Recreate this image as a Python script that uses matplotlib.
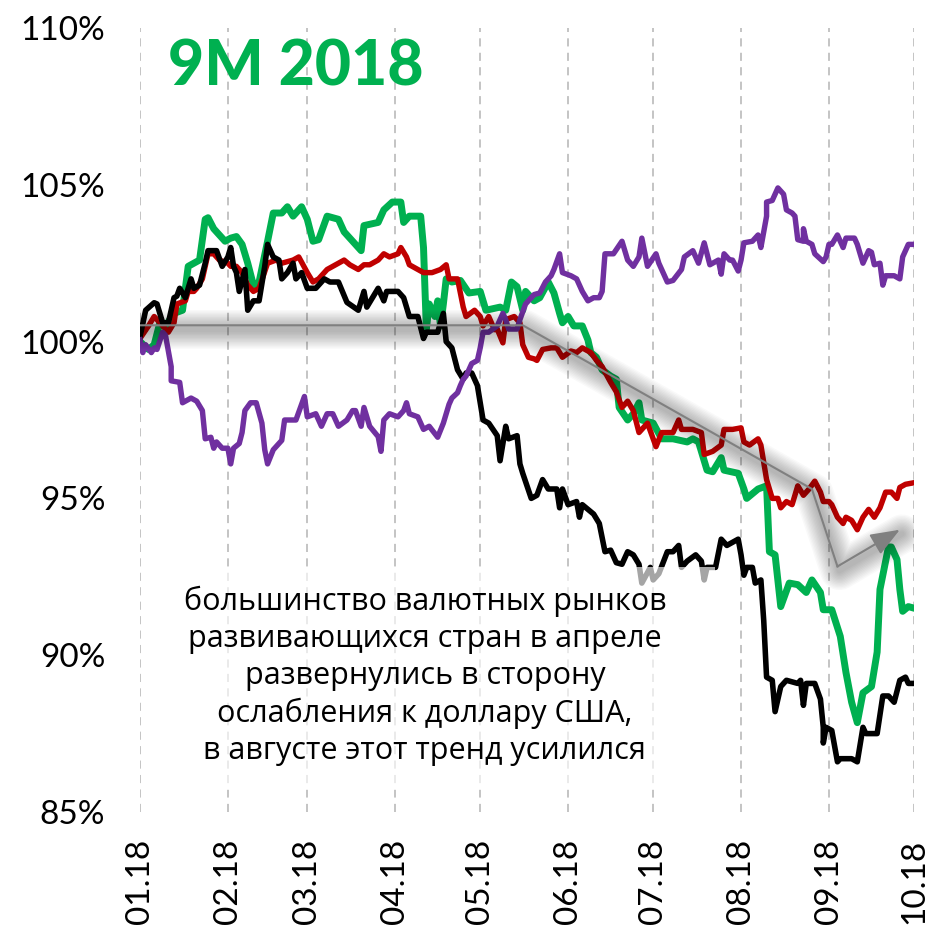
import numpy as np
import pandas as pd
import matplotlib
matplotlib.use("Agg")
import matplotlib.pyplot as plt
import matplotlib.transforms as mtransforms
from matplotlib.patches import Rectangle

# days since 01.01.2018 and index level (%)
green_days = [0, 3, 5, 7, 9, 12, 15, 17, 19, 21, 23, 24, 26, 28, 30, 32, 34, 36, 38, 40, 42, 45, 47, 50, 52, 54,
              57, 59, 61, 63, 66, 70, 72, 74, 78, 79, 84, 86, 89, 92, 93, 95, 99, 100, 101, 102, 104, 105, 106, 107,
              108, 110, 113, 116, 120, 122, 127, 129, 131, 133, 135, 136, 139, 141, 144, 146, 148, 149, 151, 153,
              156, 158, 159, 161, 163, 166, 168, 169, 172, 174, 176, 177, 181, 184, 188, 193, 195, 197, 200, 202,
              205, 206, 211, 213, 214, 218, 221, 222, 224, 226, 229, 232, 235, 237, 240, 241, 244, 247, 249, 251,
              253, 255, 258, 260, 261, 264, 265, 267, 268, 269, 271, 273]
green_vals = [100.0, 99.75, 99.9, 100.6, 100.5, 100.9, 101.0, 102.4, 102.5, 102.6, 103.9, 103.95, 103.6, 103.4,
              103.2, 103.3, 103.35, 103.1, 102.5, 101.8, 101.9, 103.2, 104.1, 104.1, 104.3, 104.0, 104.3, 103.9,
              103.2, 103.25, 104.0, 103.9, 103.5, 103.3, 102.9, 103.7, 103.8, 104.2, 104.45, 104.45, 103.8, 104.0,
              104.0, 103.0, 100.4, 101.2, 100.8, 101.3, 100.5, 101.2, 102.0, 101.9, 101.95, 101.55, 101.6, 101.0,
              101.1, 101.0, 101.9, 101.75, 101.0, 101.6, 101.3, 101.4, 101.9, 101.55, 100.9, 100.6, 100.8, 100.5,
              100.5, 100.05, 99.65, 99.5, 99.1, 98.9, 98.8, 97.9, 97.5, 97.7, 98.05, 97.5, 97.4, 96.9, 96.9, 96.8,
              96.9, 96.8, 95.9, 95.85, 96.3, 95.9, 95.8, 95.3, 95.0, 95.3, 95.4, 93.3, 93.2, 91.55, 92.3, 92.25,
              92.0, 92.4, 92.0, 91.45, 91.45, 90.6, 89.45, 88.5, 87.85, 88.8, 89.0, 90.1, 92.1, 93.45, 93.45, 93.05,
              92.1, 91.4, 91.55, 91.5]

black_days = [0, 2, 5, 6, 8, 10, 12, 13, 14, 16, 18, 19, 21, 23, 24, 27, 29, 31, 32, 33, 34, 35, 37, 38, 40, 42,
              44, 45, 47, 49, 50, 52, 54, 55, 57, 59, 62, 65, 67, 70, 73, 77, 79, 80, 84, 86, 87, 91, 93, 95, 98,
              100, 101, 105, 107, 108, 110, 112, 114, 115, 117, 119, 121, 123, 126, 127, 129, 130, 133, 134, 135,
              138, 140, 142, 144, 147, 148, 149, 151, 154, 155, 156, 160, 162, 164, 166, 168, 170, 172, 174, 176,
              177, 180, 181, 183, 186, 188, 190, 191, 193, 196, 198, 199, 200, 203, 205, 207, 209, 211, 212, 213,
              214, 216, 217, 219, 220, 221, 223, 224, 226, 228, 232, 233, 234, 235, 238, 240, 241, 241, 242, 244,
              246, 247, 251, 253, 255, 256, 260, 262, 264, 266, 268, 270, 271, 273]
black_vals = [100.16, 101.0, 101.24, 101.2, 100.6, 100.6, 101.4, 101.45, 101.7, 101.4, 102.0, 101.7, 101.8, 102.5,
              102.9, 102.9, 102.4, 102.7, 103.0, 102.4, 102.2, 101.6, 102.3, 101.0, 101.3, 101.3, 102.4, 103.1,
              102.7, 102.6, 102.0, 102.2, 102.5, 102.0, 102.2, 101.7, 101.7, 102.0, 101.9, 101.9, 101.25, 101.0,
              101.6, 101.1, 101.7, 101.3, 101.6, 101.6, 101.4, 100.8, 100.8, 100.1, 100.3, 100.3, 100.9, 100.0, 99.8,
              99.1, 98.8, 99.0, 99.0, 98.6, 97.5, 97.4, 97.0, 96.2, 97.3, 96.9, 97.0, 96.1, 95.8, 95.0, 95.1, 95.6,
              95.3, 95.3, 94.7, 95.3, 94.8, 94.9, 94.4, 94.8, 94.5, 94.2, 93.3, 93.35, 92.95, 92.9, 93.3, 93.2,
              92.9, 92.3, 92.8, 92.4, 92.6, 93.3, 93.3, 93.5, 92.8, 93.0, 93.2, 93.0, 92.4, 92.8, 92.8, 93.7, 93.5,
              93.6, 93.7, 93.2, 92.55, 92.8, 92.8, 92.3, 92.4, 91.1, 89.3, 89.2, 88.2, 89.0, 89.2, 89.1, 89.2,
              88.4, 89.1, 89.1, 88.6, 87.7, 87.2, 87.7, 87.6, 86.6, 86.7, 86.7, 86.6, 87.7, 87.5, 87.5, 88.7, 88.7,
              88.5, 89.2, 89.3, 89.1, 89.1]

red_days = [0, 3, 5, 7, 10, 12, 13, 16, 17, 19, 20, 22, 24, 26, 28, 31, 32, 34, 36, 38, 40, 42, 45, 48, 50, 54,
            56, 59, 61, 63, 66, 68, 72, 74, 77, 79, 81, 84, 86, 88, 91, 92, 94, 95, 98, 100, 103, 106, 108, 109,
            112, 114, 115, 118, 120, 121, 123, 125, 126, 128, 129, 132, 134, 135, 137, 139, 140, 142, 145, 147,
            149, 152, 154, 156, 159, 161, 163, 166, 168, 170, 172, 174, 176, 179, 182, 184, 188, 190, 191, 195,
            198, 199, 202, 205, 206, 209, 212, 213, 215, 218, 219, 221, 223, 225, 226, 228, 230, 232, 234, 236,
            238, 240, 241, 243, 244, 246, 248, 249, 251, 253, 255, 257, 259, 261, 263, 265, 267, 268, 270, 273]
red_vals = [100.1, 100.5, 100.8, 100.6, 100.3, 100.6, 101.2, 101.3, 101.6, 101.6, 101.7, 102.0, 102.8, 102.8,
            102.6, 102.5, 102.4, 102.4, 102.2, 101.8, 101.6, 101.7, 102.5, 102.6, 102.5, 102.6, 102.7, 102.2,
            101.9, 102.0, 102.3, 102.4, 102.6, 102.45, 102.3, 102.45, 102.45, 102.6, 102.8, 102.7, 102.8, 103.0,
            102.7, 102.45, 102.3, 102.2, 102.2, 102.3, 102.45, 102.0, 102.0, 101.1, 100.8, 101.0, 100.8, 100.5,
            100.8, 100.38, 100.4, 99.96, 100.7, 100.8, 100.6, 99.9, 99.5, 99.45, 99.4, 99.75, 99.8, 99.8, 99.5,
            99.7, 99.65, 99.8, 99.65, 99.4, 99.2, 98.7, 98.4, 97.9, 98.1, 97.8, 97.1, 97.4, 96.65, 97.1, 97.1,
            97.5, 97.2, 97.2, 97.1, 96.4, 96.5, 96.7, 97.2, 97.2, 97.25, 96.8, 96.7, 96.9, 96.7, 95.6, 95.0, 95.0,
            94.7, 94.9, 94.8, 95.4, 95.1, 95.3, 95.55, 95.2, 94.9, 94.9, 94.8, 94.4, 94.2, 94.4, 94.3, 94.0, 94.4,
            94.65, 94.4, 94.7, 95.2, 95.2, 95.0, 95.35, 95.45, 95.5]

purple_days = [0, 1, 2, 4, 5, 6, 8, 9, 11, 11, 14, 15, 18, 20, 22, 23, 25, 26, 27, 29, 31, 32, 33, 35, 36, 37,
               39, 41, 43, 44, 45, 47, 48, 50, 51, 53, 55, 58, 59, 62, 64, 66, 68, 70, 73, 75, 76, 78, 79, 81, 84,
               85, 86, 88, 91, 93, 94, 95, 98, 100, 102, 105, 107, 109, 110, 112, 113, 114, 115, 117, 119, 120,
               121, 123, 126, 128, 129, 130, 133, 134, 136, 139, 141, 143, 145, 146, 148, 149, 152, 154, 156, 158,
               160, 162, 163, 164, 167, 170, 172, 174, 176, 177, 179, 182, 183, 186, 188, 191, 192, 195, 197, 199,
               201, 203, 204, 205, 206, 208, 209, 211, 212, 213, 216, 218, 219, 221, 221, 223, 225, 227, 228, 230,
               231, 232, 234, 234, 235, 237, 238, 241, 242, 243, 244, 246, 248, 249, 252, 253, 255, 257, 258, 259,
               261, 262, 263, 266, 268, 269, 271, 273]
purple_vals = [100.06, 99.65, 99.9, 99.65, 99.8, 99.75, 100.3, 100.2, 99.2, 98.75, 98.7, 98.05, 98.2, 98.1, 97.8,
               96.9, 96.95, 96.6, 96.8, 96.6, 96.6, 96.1, 96.6, 96.75, 97.1, 97.8, 98.05, 98.05, 97.4, 96.55, 96.1,
               96.55, 96.65, 96.85, 97.5, 97.5, 97.5, 98.25, 97.6, 97.7, 97.3, 97.7, 97.7, 97.3, 97.5, 97.8, 97.8,
               97.3, 97.9, 97.3, 96.97, 96.5, 97.5, 97.7, 97.6, 97.8, 98.05, 97.7, 97.6, 97.2, 97.3, 96.95, 97.4,
               98.0, 98.2, 98.37, 98.6, 98.8, 98.9, 99.3, 99.4, 99.8, 100.3, 100.3, 100.5, 100.9, 100.7, 100.4,
               100.4, 100.7, 101.2, 101.5, 101.55, 101.9, 102.1, 102.3, 102.8, 102.2, 102.1, 102.0, 101.6, 101.3,
               101.4, 101.4, 101.6, 102.8, 102.8, 103.2, 102.6, 102.4, 102.7, 103.3, 102.4, 102.8, 102.5, 101.9,
               101.95, 102.3, 102.7, 102.9, 102.5, 103.15, 102.45, 102.55, 102.6, 102.15, 102.8, 102.6, 102.6,
               102.25, 102.6, 103.15, 103.2, 103.4, 103.0, 104.0, 104.45, 104.5, 104.9, 104.7, 104.2, 104.1, 104.0,
               103.25, 103.2, 103.6, 103.2, 103.1, 102.8, 102.55, 102.7, 103.1, 103.1, 103.4, 103.0, 103.3, 103.3,
               103.1, 102.5, 102.9, 102.85, 102.45, 102.5, 101.8, 102.1, 102.1, 102.0, 102.7, 103.1, 103.1]

months = pd.date_range("2018-01-01", "2018-10-01", freq="MS")
month_labels = [m.strftime("%m.%y") for m in months]
y_ticks = [85, 90, 95, 100, 105, 110]
y_labels = [f"{t}%" for t in y_ticks]

title = "9M 2018"
note = ("большинство валютных рынков\nразвивающихся стран в апреле\nразвернулись в сторону\n"
        "ослабления к доллару США,\nв августе этот тренд усилился")

start = pd.Timestamp("2018-01-01")


def to_dates(days):
    return start + pd.to_timedelta(days, unit="D")


fig = plt.figure(figsize=(9.32, 9.27), dpi=100)
ax = fig.add_axes([140 / 932, 1 - 812 / 927, 774 / 932, 784 / 927])

for m in months:
    ax.axvline(m, color="#bfbfbf", lw=1.3, ls=(0, (4.5, 3.5)), zorder=0)

ax.plot(to_dates(green_days), green_vals, color="#00b050", lw=5.0, solid_joinstyle="round", zorder=2)
ax.plot(to_dates(red_days), red_vals, color="#c00000", lw=3.9, solid_joinstyle="round", zorder=3)
ax.plot(to_dates(black_days), black_vals, color="black", lw=4.0, solid_joinstyle="round", zorder=4)
ax.plot(to_dates(purple_days), purple_vals, color="#7030a0", lw=3.9, solid_joinstyle="round", zorder=5)

# trend arrow with a soft shadow
path_x = to_dates([0, 135, 237, 246])
path_y = [100.52, 100.52, 95.3, 92.83]
head_from = (to_dates([246])[0], 92.83)
head_to = (to_dates([268])[0], 94.0)
shadow = mtransforms.offset_copy(ax.transData, fig=fig, x=1.5, y=-3, units="points")
sx = list(path_x) + [head_to[0]]
sy = path_y + [head_to[1]]
for w in range(28, 2, -2):
    ax.plot(sx, sy, color="black", lw=w, alpha=0.022, solid_capstyle="round",
            solid_joinstyle="round", transform=shadow, zorder=6)
ax.plot(path_x, path_y, color="#808080", lw=1.5, zorder=7)
ax.annotate("", xy=head_to, xytext=head_from, zorder=7,
            arrowprops=dict(arrowstyle="-|>,head_length=1.8,head_width=0.7", color="#808080",
                            lw=1.5, shrinkA=0, shrinkB=0))

ax.add_patch(Rectangle((30 / 774, 22 / 784), 545 / 774, 223 / 784, transform=ax.transAxes,
                       facecolor="white", alpha=0.65, edgecolor="none", zorder=8))
ax.text(0.368, 0.1735, note, transform=ax.transAxes, ha="center", va="center",
        fontsize=22, family="Open Sans", linespacing=1.3, zorder=9)

fig.text(168 / 932, 1 - 85 / 927, title, color="#00b050", fontsize=45, fontweight="black",
         family="Lato", va="baseline", ha="left")

ax.set_xlim(months[0], months[-1])
ax.set_ylim(85, 110)
ax.set_xticks(months)
ax.set_xticklabels(month_labels, rotation=90, fontsize=24, family="Lato", color="black")
ax.set_yticks(y_ticks)
ax.set_yticklabels(y_labels, fontsize=24, family="Lato", color="black")
ax.tick_params(axis="x", length=0, pad=19)
ax.tick_params(axis="y", length=0, pad=25)
for s in ax.spines.values():
    s.set_visible(False)

fig.savefig("out.png", dpi=100)
